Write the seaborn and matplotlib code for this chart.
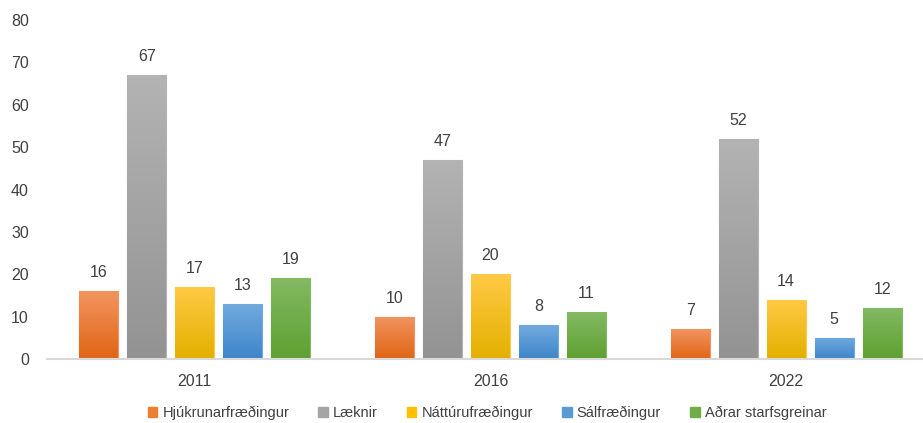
import numpy as np
import pandas as pd
import seaborn as sns
import matplotlib.pyplot as plt
from matplotlib.colors import LinearSegmentedColormap

# gögn lesin af myndinni
years = ['2011', '2016', '2022']
groups = ['Hjúkrunarfræðingur', 'Læknir', 'Náttúrufræðingur', 'Sálfræðingur', 'Aðrar starfsgreinar']
hjukrun = [16, 10, 7]
laeknir = [67, 47, 52]
natturu = [17, 20, 14]
salfr = [13, 8, 5]
adrar = [19, 11, 12]

colors = ['#ED7D31', '#A5A5A5', '#FFC000', '#5B9BD5', '#70AD47']
tops = ['#F29460', '#B3B3B3', '#FFCA45', '#72AADF', '#83B963']
bottoms = ['#E06515', '#939393', '#E3B000', '#3E85C9', '#5EA030']

rows = []
for g, vals in zip(groups, [hjukrun, laeknir, natturu, salfr, adrar]):
    for y, v in zip(years, vals):
        rows.append({'year': y, 'group': g, 'value': v})
df = pd.DataFrame(rows)

sns.set_style('white')
plt.rcParams['font.family'] = ['Liberation Sans', 'DejaVu Sans']
text_col = '#404040'

fig = plt.figure(figsize=(9.23, 4.23), dpi=100)
ax = fig.add_axes([47 / 923, 64 / 423, 1 - 47 / 923, 339 / 423])

sns.barplot(data=df, x='year', y='value', hue='group', hue_order=groups,
            palette=colors, width=0.812, gap=0.19, ax=ax,
            edgecolor='none', linewidth=0, legend=True)

# lóðréttur litastigull í hverri súlu
for cont, top, bot in zip(ax.containers, tops, bottoms):
    cmap = LinearSegmentedColormap.from_list('g', [bot, top])
    for bar in cont:
        x0, y0 = bar.get_x(), bar.get_y()
        w, h = bar.get_width(), bar.get_height()
        grad = np.linspace(1, 0, 100).reshape(-1, 1)
        im = ax.imshow(grad, cmap=cmap, extent=(x0, x0 + w, y0, y0 + h),
                       aspect='auto', zorder=bar.get_zorder() + 0.1, origin='upper')
        im.set_clip_path(bar)
        bar.set_edgecolor(top)
        bar.set_linewidth(0.8)
    ax.bar_label(cont, padding=8, fontsize=11.5, color=text_col)

ax.set_xlim(-0.5, 2.5 - 11 / 295.5)
ax.set_ylim(0, 80)
ax.set_yticks(range(0, 81, 10))
ax.set_xlabel('')
ax.set_ylabel('')
ax.tick_params(axis='both', length=0, labelsize=11.5, colors=text_col)
ax.tick_params(axis='x', pad=11)
ax.tick_params(axis='y', pad=13)
for s in ['top', 'right', 'left']:
    ax.spines[s].set_visible(False)
ax.spines['bottom'].set_color('#D9D9D9')
ax.spines['bottom'].set_linewidth(1.5)

ax.legend_.remove()
handles = [plt.Rectangle((0, 0), 1, 1, color=c) for c in colors]
fig.legend(handles, groups, loc='center', bbox_to_anchor=(487 / 923, 1 - 413 / 423),
           ncol=5, frameon=False, fontsize=10.5, handlelength=0.65, handleheight=0.65,
           handletextpad=0.35, columnspacing=2.0, labelcolor=text_col)

fig.savefig('out.png', dpi=100)
